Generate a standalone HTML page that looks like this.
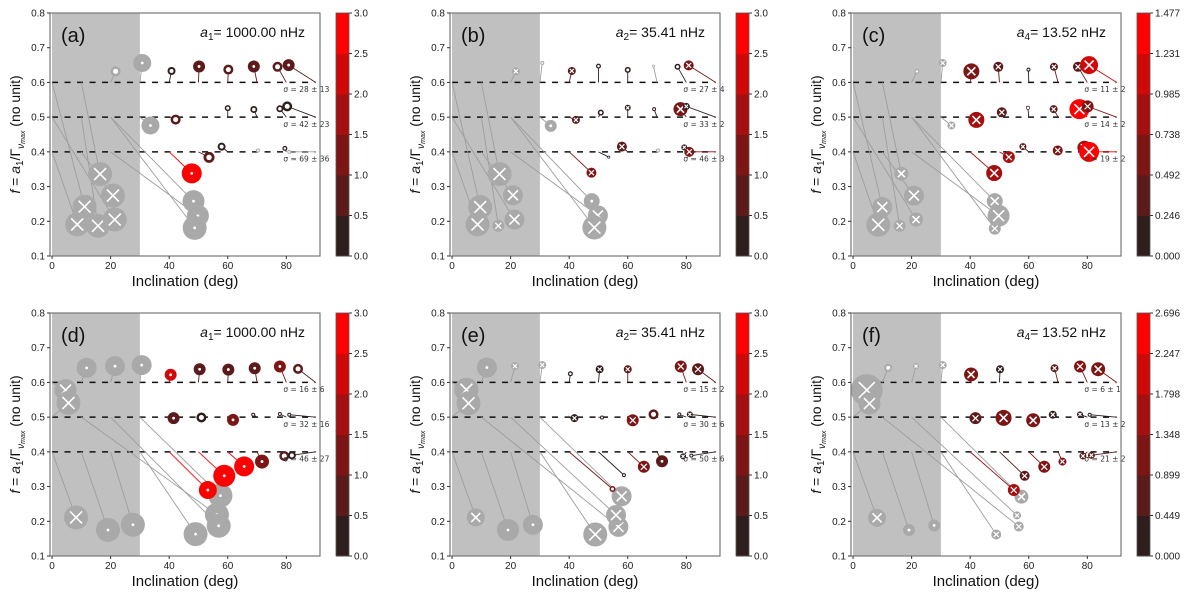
<!DOCTYPE html>
<html><head><meta charset="utf-8"><style>
body{margin:0;background:#fff;}
svg{display:block;font-family:"Liberation Sans",sans-serif;}
</style></head><body>
<svg id="fig" width="1200" height="597" viewBox="0 0 1200 597"></svg>
<script>
// Per-point data: [trueInc, trueF, estInc, estF, radiusPx, colourValue(-1 = grey), marker(0 dot,1 x)]
const panelLabels=["(a)","(b)","(c)","(d)","(e)","(f)"];
const coefNames=["1","2","4","1","2","4"];
const coefValues=["1000.00","35.41","13.52","1000.00","35.41","13.52"];
const colorMax=[3,3,1.477,3,3,2.696];
const cbTicks3=["0.0","0.5","1.0","1.5","2.0","2.5","3.0"];
const cbTicksC=["0.000","0.246","0.492","0.738","0.985","1.231","1.477"];
const cbTicksF=["0.000","0.449","0.899","1.348","1.798","2.247","2.696"];
const sigmaA=["28 ± 13","42 ± 23","69 ± 36"];
const sigmaB=["27 ± 4","33 ± 2","46 ± 3"];
const sigmaC=["11 ± 2","14 ± 2","19 ± 2"];
const sigmaD=["16 ± 6","32 ± 16","46 ± 27"];
const sigmaE=["15 ± 2","30 ± 6","50 ± 6"];
const sigmaF=["6 ± 1","13 ± 2","21 ± 2"];
const refLevels=[0.6,0.5,0.4];
const yTicks=[0.1,0.2,0.3,0.4,0.5,0.6,0.7,0.8];
const xTicks=[0,20,40,60,80];
const pointsA=[
[20,.6,21.7,.632,5,-1,0],[30,.6,30.8,.656,9,-1,0],[30,.5,33.6,.476,9,-1,0],
[0,.6,11.1,.242,12,-1,1],[0,.4,8.6,.191,12,-1,1],[10,.5,15.7,.187,12,-1,1],[10,.6,16.4,.336,12,-1,1],[10,.4,20.8,.274,12,-1,1],[0,.5,21.4,.205,12,-1,1],
[20,.5,48.3,.258,11,-1,0],[20,.4,49.8,.216,11,-1,0],[20,.5,48.7,.181,12,-1,0],
[40,.6,40.8,.633,4,.3,0],[50,.6,50.2,.646,6,.7,0],[60,.6,60.2,.637,5,.6,0],[70,.6,68.9,.646,6,.7,0],[80,.6,77,.645,5,.7,0],[90,.6,80.8,.65,6,.7,0],
[40,.5,42.2,.493,5,.8,0],[60,.5,60,.526,3,.1,0],[70,.5,68.9,.522,3.5,.2,0],[80,.5,77.8,.524,3.5,.1,0],[90,.5,80.3,.531,5,.3,0],
[40,.4,47.7,.338,10,3,0],[50,.4,53.6,.384,5.5,.6,0],[60,.4,57.9,.415,4,.3,0],[70,.4,70.3,.404,2,-1,0],[80,.4,79.5,.41,2.5,.1,0],[90,.4,81,.4,2,-1,0]];
const pointsB=[
[20,.6,21.8,.632,4,-1,1],[30,.6,30.8,.656,2,-1,0],[30,.5,33.7,.475,6,-1,0],
[0,.6,9.6,.241,12,-1,1],[0,.4,8.7,.191,12,-1,1],[10,.5,15.8,.187,6,-1,1],[10,.6,16.2,.336,12,-1,1],[10,.4,20.8,.275,10,-1,1],[0,.5,21.3,.205,10,-1,1],
[20,.5,47.7,.258,8,-1,0],[20,.4,49.8,.217,10,-1,1],[20,.5,48.6,.182,12,-1,1],
[40,.6,40.9,.633,4,.5,1],[50,.6,50,.647,2.5,.1,0],[60,.6,60,.636,3,.3,0],[70,.6,68.8,.647,1.5,-1,0],[80,.6,77,.645,3,.2,0],[90,.6,80.8,.649,5,1,1],
[40,.5,42.3,.492,4,.5,1],[50,.5,50.8,.513,3,.2,0],[60,.5,60,.527,3,.3,1],[70,.5,69,.523,2,.1,0],[80,.5,78,.523,7,1.2,1],[90,.5,80,.531,3.5,.2,1],
[40,.4,47.6,.34,5,1,1],[50,.4,53.5,.385,1.5,.1,0],[60,.4,58,.415,5,.9,1],[70,.4,70.3,.404,2,-1,0],[80,.4,79.3,.413,3,.2,1],[90,.4,81,.4,5,1,1]];
const pointsC=[
[20,.6,21.8,.632,2.5,-1,0],[30,.6,30.6,.656,4,-1,1],[30,.5,33.6,.476,4,-1,1],
[0,.6,10,.241,10,-1,1],[0,.4,8.6,.19,12,-1,1],[10,.5,15.9,.187,6,-1,1],[10,.6,16.5,.337,7,-1,1],[10,.4,20.8,.274,10,-1,1],[0,.5,21.5,.205,7,-1,1],
[20,.5,48.4,.258,8,-1,1],[20,.4,49.7,.216,11,-1,1],[20,.5,48.4,.179,6,-1,1],
[40,.6,40.4,.632,8,.6,1],[50,.6,49.6,.645,5,.4,1],[60,.6,59.9,.637,2,.05,0],[70,.6,68.6,.645,4,.4,1],[80,.6,76.8,.645,5,.35,1],[90,.6,80.6,.65,9,1,1],
[40,.5,42.1,.492,8,.9,1],[50,.5,50.8,.514,5,.3,1],[60,.5,59.7,.527,2,.1,1],[70,.5,68.5,.523,4,.4,1],[80,.5,77.3,.523,10,1.4,1],[90,.5,80.1,.531,6,.7,1],
[40,.4,48.2,.339,8,.9,1],[50,.4,53.2,.385,6,.9,1],[60,.4,58,.415,3.5,.35,1],[70,.4,69.9,.404,5,.6,1],[80,.4,79,.412,7,.8,1],[90,.4,80.6,.4,10,1.45,1]];
const pointsD=[
[0,.6,4.6,.578,11,-1,1],[0,.5,5.6,.541,12,-1,1],[0,.4,8.2,.211,12,-1,1],
[10,.6,11.8,.642,10,-1,0],[20,.6,21.5,.647,10,-1,0],[30,.6,30.6,.65,10,-1,0],
[10,.4,19.1,.175,12,-1,0],[20,.4,27.6,.19,12,-1,0],[30,.4,49,.163,12,-1,0],
[10,.5,56.3,.219,12,-1,0],[20,.5,56.9,.187,12,-1,0],[30,.5,57.5,.274,12,-1,0],
[40,.6,40.5,.622,6,2.2,0],[50,.6,50.4,.638,6,.5,0],[60,.6,60.2,.637,6,.6,0],[70,.6,69.2,.641,6,.8,0],[80,.6,77.8,.646,6,1,0],[90,.6,84,.639,5,.5,0],
[40,.5,41.5,.497,6,.6,0],[50,.5,51,.499,5,.4,0],[60,.5,61.8,.492,6,1.1,0],[70,.5,68.7,.507,2,.1,0],[80,.5,77.8,.509,2,.1,0],[90,.5,81,.507,2,.05,0],
[40,.4,53.2,.29,9,3,0],[50,.4,58.8,.331,11,3,0],[60,.4,65.6,.358,10,2.6,0],[70,.4,71.7,.372,7,1.2,0],[80,.4,79.3,.388,5,.8,0],[90,.4,81.9,.39,4,.1,0]];
const pointsE=[
[0,.6,4.9,.579,12,-1,1],[0,.5,5.6,.54,12,-1,1],[0,.4,8.1,.211,9,-1,1],
[10,.6,11.9,.643,10,-1,0],[20,.6,21.5,.647,4,-1,1],[30,.6,30.8,.65,4,-1,1],
[10,.4,19.1,.175,11,-1,0],[20,.4,27.6,.19,10,-1,0],[30,.4,48.9,.162,12,-1,1],
[10,.5,56.8,.184,10,-1,1],[20,.5,56,.218,10,-1,1],[30,.5,57.9,.272,10,-1,1],
[40,.6,40.4,.625,2.5,.1,0],[50,.6,50.4,.638,4,.3,1],[60,.6,60,.638,4,.8,1],[80,.6,78.1,.646,6,1,1],[90,.6,84,.638,6,.8,1],
[40,.5,41.8,.497,4,.4,1],[50,.5,51.2,.499,2,.1,0],[60,.5,61.7,.491,6,1,1],[70,.5,68.8,.508,5,.8,0],[80,.5,77.6,.508,2,.05,0],[90,.5,81.2,.508,3,.2,1],
[40,.4,54.8,.293,3,1,0],[50,.4,58.7,.333,2,.05,0],[60,.4,65.5,.357,6,1,1],[70,.4,71.7,.373,6,.8,0],[80,.4,78.9,.387,3,.2,1],[90,.4,81.7,.389,2,.05,0]];
const pointsF=[
[0,.6,4.7,.578,16,-1,1],[0,.5,5.6,.539,11,-1,1],[0,.4,8.2,.21,9,-1,1],
[10,.6,12,.642,4,-1,0],[20,.6,21.5,.647,3,-1,1],[30,.6,30.6,.65,4,-1,1],
[10,.4,19.1,.175,6,-1,0],[20,.4,27.7,.188,6,-1,0],[30,.4,48.9,.162,5,-1,1],
[10,.5,56.6,.185,5,-1,1],[20,.5,56,.217,4,-1,1],[30,.5,57.5,.271,7,-1,1],
[40,.6,40.3,.623,7,1.2,1],[50,.6,50.2,.638,4,.4,1],[70,.6,68.8,.641,4,.5,1],[80,.6,77.5,.646,6,1.1,1],[90,.6,83.7,.638,7,1,1],
[40,.5,41.8,.497,6,.6,1],[50,.5,51.4,.498,8,1.2,1],[60,.5,61.5,.491,7,1.1,1],[70,.5,68.2,.507,4,.4,1],[80,.5,77.5,.508,3,.2,1],[90,.5,80.8,.507,2,.05,0],
[40,.4,54.9,.29,6,1.5,1],[50,.4,58.6,.331,5,.6,1],[60,.4,65.3,.357,6,1.2,1],[70,.4,71.5,.372,4,.9,1],[80,.4,78.5,.388,3.5,.7,1],[90,.4,81.4,.39,3.5,.8,1]];

const allPoints=[pointsA,pointsB,pointsC,pointsD,pointsE,pointsF];
const allSigma=[sigmaA,sigmaB,sigmaC,sigmaD,sigmaE,sigmaF];
const allCbTicks=[cbTicks3,cbTicks3,cbTicksC,cbTicks3,cbTicks3,cbTicksF];
const palette=['#2f1e1e','#5b1b1b','#7e1515','#a50f0f','#d00808','#ff0000'];

const NS="http://www.w3.org/2000/svg";
const svg=document.getElementById('fig');
function mk(tag,attrs,parent){const e=document.createElementNS(NS,tag);for(const k in attrs)e.setAttribute(k,attrs[k]);(parent||svg).appendChild(e);return e;}

const AX_L=[50,450,851], AX_T=[13,313], AW=270, AH=243;
const XMIN=-0.7, XMAX=91.5, YMIN=0.1, YMAX=0.8;

for(let p=0;p<6;p++){
  const col=p%3,row=Math.floor(p/3);
  const L=AX_L[col],T=AX_T[row];
  const sx=v=>L+(v-XMIN)/(XMAX-XMIN)*AW;
  const sy=v=>T+AH-(v-YMIN)/(YMAX-YMIN)*AH;
  const g=mk('g',{});
  
  
  const cmax=colorMax[p];
  const col_=c=>c<0?'#a9a9a9':palette[Math.min(5,Math.floor(c/cmax*6))];
  const cp=mk('clipPath',{id:'clip'+p},g);
  mk('rect',{x:L,y:T,width:AW,height:AH},cp);
  // gray span
  const span=mk('rect',{x:sx(0),y:T,width:sx(30)-sx(0),height:AH,fill:'#c0c0c0'},g);
  
  
  // dashed reference lines
  refLevels.forEach((lv,i)=>{
    const l=mk('line',{x1:sx(0),x2:sx(90),y1:sy(lv),y2:sy(lv),stroke:'#111','stroke-width':1.5,'stroke-dasharray':'6,6.5'},g);
    
    
  });
  const pg=mk('g',{'clip-path':'url(#clip'+p+')'},g);
  const pts=allPoints[p];
  // connector lines
  pts.forEach(d=>{
    const ln=mk('line',{x1:sx(d[0]),y1:sy(d[1]),x2:sx(d[2]),y2:sy(d[3]),stroke:d[5]<0?'#9d9d9d':col_(d[5]),'stroke-width':0.9},pg);
    
    
  });
  // grey first then coloured
  const order=pts.filter(d=>d[5]<0).concat(pts.filter(d=>d[5]>=0));
  order.forEach(d=>{
    const cx=sx(d[2]),cy=sy(d[3]),r=d[4];
    const c=mk('circle',{cx:cx,cy:cy,r:r,fill:col_(d[5])},pg);
    
    
    if(d[6]===1){
      const a=r*0.5;
      mk('path',{d:`M${cx-a} ${cy-a}L${cx+a} ${cy+a}M${cx-a} ${cy+a}L${cx+a} ${cy-a}`,stroke:'#fff','stroke-width':r>6?1.6:1.2,fill:'none'},pg);
    } else {
      const h=r<=5.5?r*0.5:1.4;
      mk('circle',{cx:cx,cy:cy,r:h,fill:'#fff'},pg);
    }
  });
  // sigma annotations
  allSigma[p].forEach((s,i)=>{
    const t=mk('text',{x:sx(79),y:sy(refLevels[i]-0.028),'font-size':7.5,fill:'#333','font-family':'"DejaVu Sans",sans-serif'},g);
    t.textContent='σ = '+s;
    
    
  });
  // frame
  const fr=mk('rect',{x:L,y:T,width:AW,height:AH,fill:'none',stroke:'#777','stroke-width':1.2},g);
  
  
  // y ticks
  yTicks.forEach(v=>{
    mk('line',{x1:L-3,x2:L,y1:sy(v),y2:sy(v),stroke:'#333'},g);
    const t=mk('text',{x:L-5,y:sy(v)+3.5,'font-size':10,'text-anchor':'end',fill:'#222'},g);
    t.textContent=v.toFixed(1);
    
    
  });
  xTicks.forEach(v=>{
    mk('line',{x1:sx(v),x2:sx(v),y1:T+AH,y2:T+AH+3,stroke:'#333'},g);
    const t=mk('text',{x:sx(v),y:T+AH+13,'font-size':10,'text-anchor':'middle',fill:'#222'},g);
    t.textContent=v;
    
    
  });
  const xt=mk('text',{x:L+AW/2,y:T+AH+30,'font-size':15,'text-anchor':'middle',fill:'#111'},g);
  xt.textContent='Inclination (deg)';
  
  
  const yt=mk('text',{x:0,y:0,'font-size':14,'text-anchor':'middle',fill:'#111',transform:`translate(${L-30},${T+AH/2}) rotate(-90)`},g);
  yt.innerHTML='<tspan font-style="italic">f</tspan> = <tspan font-style="italic">a</tspan><tspan font-size="10" dy="3">1</tspan><tspan dy="-3">/Γ</tspan><tspan font-size="10" font-style="italic" dy="4">ν</tspan><tspan font-size="7" font-style="italic" dy="1">max</tspan><tspan dy="-5">  (no unit)</tspan>';
  
  
  const pl=mk('text',{x:L+11,y:T+29,'font-size':20,fill:'#111'},g);
  pl.textContent=panelLabels[p];
  
  
  const an=mk('text',{x:L+255,y:T+24,'font-size':14,'text-anchor':'end',fill:'#111'},g);
  an.innerHTML='<tspan font-style="italic">a</tspan><tspan font-size="10" dy="3">'+coefNames[p]+'</tspan><tspan dy="-3">= '+coefValues[p]+' nHz</tspan>';
  
  
  // colorbar
  const CB=L+286, ticks=allCbTicks[p];
  for(let i=0;i<6;i++){
    const h=AH/6;
    const r=mk('rect',{x:CB,y:T+AH-(i+1)*h,width:13,height:h+0.5,fill:palette[i]},g);
    
    
  }
  mk('rect',{x:CB,y:T,width:13,height:AH,fill:'none',stroke:'#555','stroke-width':0.8},g);
  ticks.forEach((s,i)=>{
    const y=T+AH-i*AH/6;
    mk('line',{x1:CB+13,x2:CB+16,y1:y,y2:y,stroke:'#333'},g);
    const t=mk('text',{x:CB+18,y:y+3.5,'font-size':10,fill:'#222'},g);
    t.textContent=s;
    
    
  });
}
</script>
</body></html>
